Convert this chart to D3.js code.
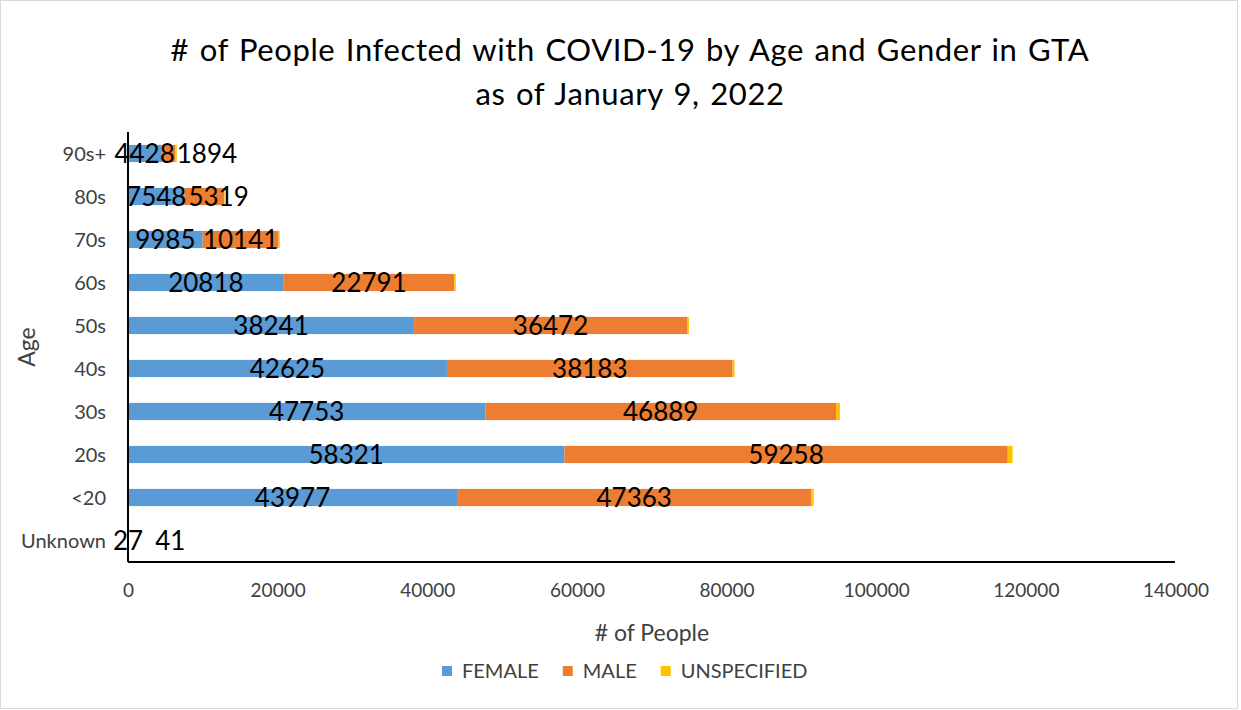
<!DOCTYPE html>
<html>
<head>
<meta charset="utf-8">
<script src="https://cdn.jsdelivr.net/npm/d3@7"></script>
<style>
  body { margin: 0; background: #fff; }
  svg { display: block; font-family: Lato, "Open Sans", sans-serif; }
</style>
</head>
<body>
<svg id="chart" width="1241" height="710"></svg>
<script>
// Données
const ages = ["90s+", "80s", "70s", "60s", "50s", "40s", "30s", "20s", "<20", "Unknown"];
const female = [4428, 7548, 9985, 20818, 38241, 42625, 47753, 58321, 43977, 27];
const male = [1894, 5319, 10141, 22791, 36472, 38183, 46889, 59258, 47363, 41];
const unspecified = [200, 60, 150, 200, 250, 250, 500, 650, 300, 0];
const series = ["FEMALE", "MALE", "UNSPECIFIED"];
const colors = ["#5b9bd5", "#ed7d31", "#ffc000"];
const xTicks = [0, 20000, 40000, 60000, 80000, 100000, 120000, 140000];

const width = 1241, height = 710;
const margin = { top: 132, right: 66, bottom: 148, left: 128 };

const svg = d3.select("#chart");

// Cadre
svg.append("rect")
  .attr("x", 0.5).attr("y", 0.5)
  .attr("width", width - 4).attr("height", height - 2)
  .attr("fill", "#fff").attr("stroke", "#d9d9d9");

const rows = ages.map((a, i) => ({ age: a, v: [female[i], male[i], unspecified[i]] }));

const x = d3.scaleLinear([0, 140000], [margin.left, width - margin.right + 0.5]);
const y = d3.scaleBand()
  .domain(ages)
  .range([margin.top, height - margin.bottom])
  .paddingInner(0.6)
  .paddingOuter(0.3);

// Titre
const title = svg.append("text")
  .attr("text-anchor", "middle")
  .style("font-size", "31px")
  .style("letter-spacing", "0.6px")
  .style("word-spacing", "2px")
  .attr("fill", "#000");
title.append("tspan").attr("x", 630).attr("y", 61)
  .text("# of People Infected with COVID-19 by Age and Gender in GTA");
title.append("tspan").attr("x", 630).attr("y", 105)
  .text("as of January 9, 2022");

// Barres empilées
const stack = d3.stack().keys([0, 1, 2]).value((d, k) => d.v[k]);
const stacked = stack(rows);

svg.append("g")
  .selectAll("g")
  .data(stacked)
  .join("g")
  .attr("fill", (d, i) => colors[i])
  .selectAll("rect")
  .data((d) => d)
  .join("rect")
  .attr("x", (d) => x(d[0]))
  .attr("width", (d) => x(d[1]) - x(d[0]))
  .attr("y", (d) => y(d.data.age))
  .attr("height", y.bandwidth());

// Axe X
const xAxis = svg.append("g")
  .attr("transform", `translate(0,${height - margin.bottom})`)
  .call(d3.axisBottom(x).tickValues(xTicks).tickFormat(d3.format("d")).tickSize(0).tickPadding(22));
xAxis.select(".domain").attr("stroke", "#000").attr("stroke-width", 2)
  .attr("d", `M${x(0)},0H${width - margin.right}`);
xAxis.selectAll("text").style("font-size", "19px").attr("fill", "#404040").style("font-family", "Lato");

// Axe Y
const yAxis = svg.append("g")
  .attr("transform", `translate(${margin.left},0)`)
  .call(d3.axisLeft(y).tickSize(0).tickPadding(22));
yAxis.select(".domain").attr("stroke", "#000").attr("stroke-width", 2)
  .attr("d", `M0,${margin.top}V${height - margin.bottom}`);
yAxis.selectAll("text").style("font-size", "20px").attr("fill", "#404040").style("font-family", "Lato")
  .attr("dy", "0.36em");

// Étiquettes (centrées, décalées si chevauchement)
const labelG = svg.append("g")
  .style("font-size", "26px")
  .attr("fill", "#000");

rows.forEach((r, i) => {
  let prevEnd = -Infinity;
  [0, 1].forEach((k) => {
    const seg = stacked[k][i];
    const t = labelG.append("text")
      .attr("y", y(r.age) + y.bandwidth() / 2)
      .attr("dy", "0.36em")
      .text(r.v[k]);
    const w = t.node().getComputedTextLength();
    let start = (x(seg[0]) + x(seg[1])) / 2 - w / 2;
    if (k === 0 && start < 112) start = 112;
    const tiny = x(seg[1]) - x(seg[0]) < 2;
    if (start < prevEnd + 2) start = prevEnd + (tiny ? 12 : 2);
    t.attr("x", start);
    prevEnd = start + w;
  });
});

// Titres des axes
svg.append("text")
  .attr("x", 652)
  .attr("y", 641)
  .attr("text-anchor", "middle")
  .style("font-size", "23px")
  .attr("fill", "#404040")
  .text("# of People");

svg.append("text")
  .attr("transform", `translate(35,${(margin.top + height - margin.bottom) / 2}) rotate(-90)`)
  .attr("text-anchor", "middle")
  .style("font-size", "23px")
  .attr("fill", "#404040")
  .text("Age");

// Légende
const legend = svg.append("g").attr("transform", "translate(442,671)");
let lx = 0;
series.forEach((s, i) => {
  const g = legend.append("g").attr("transform", `translate(${lx},0)`);
  g.append("rect").attr("x", 0).attr("y", -5).attr("width", 10).attr("height", 10).attr("fill", colors[i]);
  const t = g.append("text").attr("x", 20).attr("dy", "0.36em")
    .style("font-size", "20px").attr("fill", "#404040").text(s);
  lx += 20 + t.node().getComputedTextLength() + 24;
});
</script>
</body>
</html>
